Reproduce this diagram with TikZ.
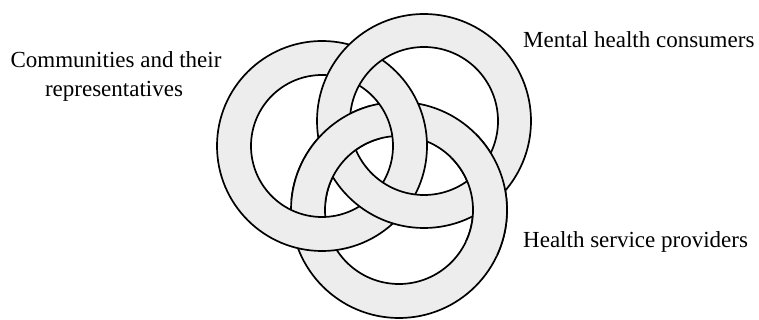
\documentclass[tikz,border=0pt]{standalone}
\usepackage{fontspec}
\setmainfont{Liberation Serif}
\definecolor{ringgray}{gray}{0.93}
\begin{document}
\begin{tikzpicture}[x=1pt,y=-1pt,
  ring/.style={draw=black, line width=1.7pt, fill=ringgray, even odd rule},
  lbl/.style={font=\fontsize{23}{28.5}\selectfont, inner sep=0pt}]
\useasboundingbox (0,0) rectangle (759,320);
\coordinate (L) at (322,146);
\coordinate (T) at (424,121);
\coordinate (B) at (399,210);
% bottom ring first, then left, then top
\path[ring] (B) circle[radius=108pt] (B) circle[radius=74pt];
\path[ring] (L) circle[radius=105pt] (L) circle[radius=71pt];
\path[ring] (T) circle[radius=107pt] (T) circle[radius=74pt];
% bottom ring passes over top ring at its two crossings
\begin{scope}
  \clip (B) -- (347.2,16.8) -- (245.8,81.4) -- (199.8,192.6) -- cycle;
  \path[ring] (B) circle[radius=108pt] (B) circle[radius=74pt];
\end{scope}
\begin{scope}
  \clip (B) -- (580.3,294.5) -- (596,175.3) -- (540.4,68.6) -- cycle;
  \path[ring] (B) circle[radius=108pt] (B) circle[radius=74pt];
\end{scope}
\node[lbl, anchor=base] (comm1) at (116,68) {Communities and their};
\node[lbl, anchor=base] (comm2) at (114,96.5) {representatives};
\node[lbl, anchor=base west] (mhc) at (523,48) {Mental health consumers};
\node[lbl, anchor=base west] (hsp) at (523,247) {Health service providers};
\end{tikzpicture}
\end{document}
